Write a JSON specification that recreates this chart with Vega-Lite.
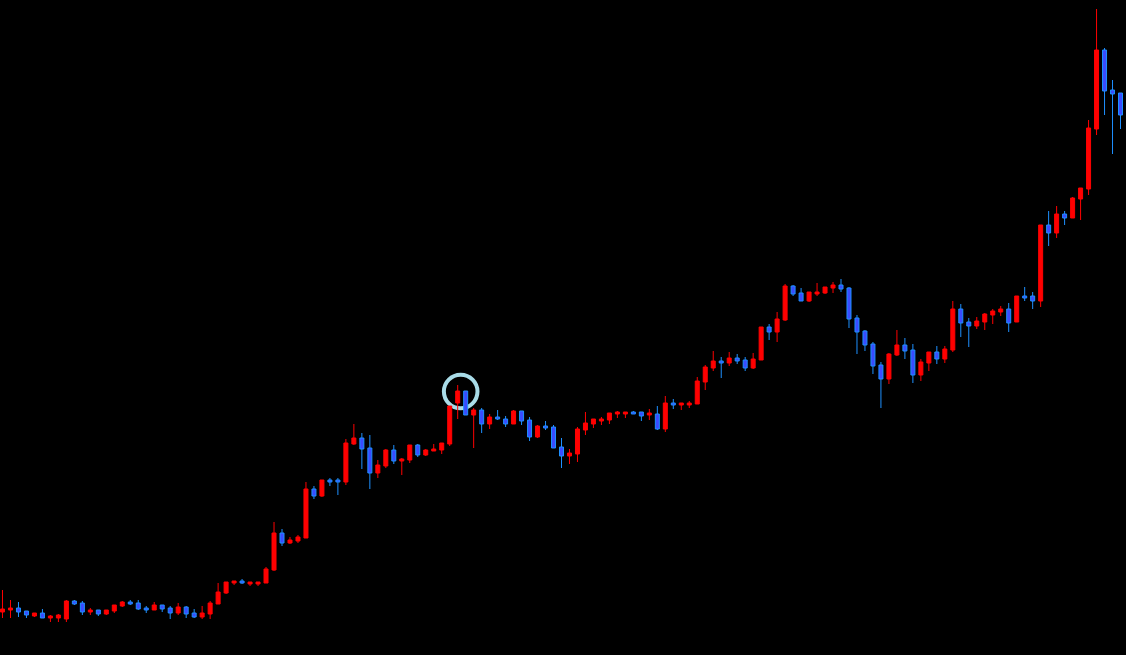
{
  "$schema": "https://vega.github.io/schema/vega-lite/v6.json",
  "width": 1126,
  "height": 655,
  "autosize": {"type": "fit", "contains": "padding"},
  "padding": 0,
  "background": "#000000",
  "config": {"view": {"stroke": null}, "scale": {"continuousPadding": 0}},
  "datasets": {
    "candles": [
      {"i":0,"o":43,"h":65,"l":37,"c":46},
      {"i":1,"o":45,"h":55,"l":37,"c":47},
      {"i":2,"o":47,"h":53,"l":38,"c":43},
      {"i":3,"o":44,"h":44,"l":37,"c":40},
      {"i":4,"o":39,"h":42,"l":38,"c":42},
      {"i":5,"o":42,"h":46,"l":37,"c":37},
      {"i":6,"o":37,"h":40,"l":33,"c":39},
      {"i":7,"o":37,"h":41,"l":33,"c":40},
      {"i":8,"o":36,"h":55,"l":33,"c":54},
      {"i":9,"o":54,"h":55,"l":50,"c":51},
      {"i":10,"o":52,"h":54,"l":40,"c":43},
      {"i":11,"o":43,"h":47,"l":40,"c":45},
      {"i":12,"o":45,"h":45,"l":39,"c":41},
      {"i":13,"o":41,"h":45,"l":40,"c":45},
      {"i":14,"o":44,"h":50,"l":42,"c":50},
      {"i":15,"o":49,"h":54,"l":48,"c":53},
      {"i":16,"o":53,"h":55,"l":50,"c":51},
      {"i":17,"o":52,"h":55,"l":45,"c":46},
      {"i":18,"o":47,"h":49,"l":42,"c":45},
      {"i":19,"o":45,"h":53,"l":45,"c":50},
      {"i":20,"o":50,"h":50,"l":43,"c":46},
      {"i":21,"o":47,"h":49,"l":36,"c":42},
      {"i":22,"o":42,"h":52,"l":40,"c":48},
      {"i":23,"o":48,"h":49,"l":37,"c":41},
      {"i":24,"o":42,"h":46,"l":37,"c":38},
      {"i":25,"o":38,"h":49,"l":36,"c":42},
      {"i":26,"o":41,"h":54,"l":36,"c":52},
      {"i":27,"o":51,"h":72,"l":51,"c":63},
      {"i":28,"o":62,"h":73,"l":61,"c":73},
      {"i":29,"o":72,"h":74,"l":70,"c":74},
      {"i":30,"o":74,"h":76,"l":71,"c":72},
      {"i":31,"o":71,"h":73,"l":69,"c":73},
      {"i":32,"o":71,"h":73,"l":69,"c":73},
      {"i":33,"o":72,"h":88,"l":72,"c":86},
      {"i":34,"o":85,"h":133,"l":84,"c":122},
      {"i":35,"o":122,"h":126,"l":109,"c":112},
      {"i":36,"o":112,"h":118,"l":111,"c":115},
      {"i":37,"o":114,"h":120,"l":112,"c":118},
      {"i":38,"o":117,"h":173,"l":117,"c":166},
      {"i":39,"o":166,"h":169,"l":156,"c":159},
      {"i":40,"o":159,"h":175,"l":158,"c":175},
      {"i":41,"o":175,"h":177,"l":169,"c":173},
      {"i":42,"o":175,"h":177,"l":160,"c":173},
      {"i":43,"o":173,"h":216,"l":170,"c":212},
      {"i":44,"o":211,"h":231,"l":210,"c":217},
      {"i":45,"o":217,"h":222,"l":186,"c":206},
      {"i":46,"o":207,"h":220,"l":166,"c":182},
      {"i":47,"o":182,"h":195,"l":177,"c":190},
      {"i":48,"o":189,"h":206,"l":187,"c":205},
      {"i":49,"o":205,"h":210,"l":191,"c":194},
      {"i":50,"o":194,"h":197,"l":180,"c":196},
      {"i":51,"o":195,"h":210,"l":192,"c":210},
      {"i":52,"o":210,"h":211,"l":198,"c":200},
      {"i":53,"o":200,"h":206,"l":199,"c":205},
      {"i":54,"o":204,"h":211,"l":204,"c":206},
      {"i":55,"o":205,"h":212,"l":201,"c":212},
      {"i":56,"o":211,"h":249,"l":209,"c":249},
      {"i":57,"o":252,"h":270,"l":236,"c":264},
      {"i":58,"o":264,"h":264,"l":240,"c":240},
      {"i":59,"o":240,"h":247,"l":207,"c":245},
      {"i":60,"o":245,"h":247,"l":222,"c":231},
      {"i":61,"o":231,"h":241,"l":226,"c":238},
      {"i":62,"o":238,"h":245,"l":235,"c":236},
      {"i":63,"o":236,"h":239,"l":228,"c":231},
      {"i":64,"o":231,"h":245,"l":231,"c":244},
      {"i":65,"o":244,"h":244,"l":230,"c":234},
      {"i":66,"o":235,"h":238,"l":214,"c":218},
      {"i":67,"o":218,"h":230,"l":217,"c":229},
      {"i":68,"o":229,"h":234,"l":225,"c":227},
      {"i":69,"o":228,"h":230,"l":207,"c":207},
      {"i":70,"o":208,"h":217,"l":187,"c":199},
      {"i":71,"o":199,"h":206,"l":191,"c":202},
      {"i":72,"o":201,"h":228,"l":193,"c":226},
      {"i":73,"o":225,"h":243,"l":220,"c":232},
      {"i":74,"o":231,"h":236,"l":227,"c":236},
      {"i":75,"o":234,"h":238,"l":230,"c":236},
      {"i":76,"o":235,"h":242,"l":231,"c":242},
      {"i":77,"o":241,"h":244,"l":237,"c":243},
      {"i":78,"o":241,"h":243,"l":237,"c":243},
      {"i":79,"o":243,"h":244,"l":241,"c":241},
      {"i":80,"o":243,"h":243,"l":234,"c":239},
      {"i":81,"o":240,"h":246,"l":235,"c":242},
      {"i":82,"o":241,"h":249,"l":225,"c":226},
      {"i":83,"o":226,"h":259,"l":223,"c":252},
      {"i":84,"o":252,"h":256,"l":246,"c":250},
      {"i":85,"o":250,"h":252,"l":245,"c":252},
      {"i":86,"o":250,"h":254,"l":247,"c":252},
      {"i":87,"o":251,"h":278,"l":251,"c":274},
      {"i":88,"o":273,"h":290,"l":265,"c":288},
      {"i":89,"o":287,"h":304,"l":284,"c":294},
      {"i":90,"o":294,"h":298,"l":277,"c":292},
      {"i":91,"o":292,"h":303,"l":289,"c":297},
      {"i":92,"o":297,"h":301,"l":291,"c":294},
      {"i":93,"o":295,"h":298,"l":284,"c":287},
      {"i":94,"o":287,"h":302,"l":286,"c":296},
      {"i":95,"o":295,"h":328,"l":295,"c":328},
      {"i":96,"o":328,"h":331,"l":315,"c":323},
      {"i":97,"o":323,"h":343,"l":313,"c":336},
      {"i":98,"o":335,"h":371,"l":334,"c":369},
      {"i":99,"o":369,"h":370,"l":359,"c":361},
      {"i":100,"o":362,"h":367,"l":354,"c":354},
      {"i":101,"o":354,"h":363,"l":353,"c":363},
      {"i":102,"o":361,"h":372,"l":359,"c":363},
      {"i":103,"o":362,"h":368,"l":361,"c":368},
      {"i":104,"o":367,"h":373,"l":362,"c":370},
      {"i":105,"o":370,"h":376,"l":363,"c":366},
      {"i":106,"o":367,"h":368,"l":327,"c":336},
      {"i":107,"o":337,"h":340,"l":301,"c":323},
      {"i":108,"o":324,"h":325,"l":304,"c":310},
      {"i":109,"o":311,"h":313,"l":281,"c":289},
      {"i":110,"o":290,"h":293,"l":247,"c":276},
      {"i":111,"o":276,"h":302,"l":271,"c":301},
      {"i":112,"o":300,"h":325,"l":299,"c":310},
      {"i":113,"o":310,"h":317,"l":296,"c":304},
      {"i":114,"o":305,"h":311,"l":272,"c":280},
      {"i":115,"o":280,"h":296,"l":274,"c":293},
      {"i":116,"o":292,"h":303,"l":284,"c":303},
      {"i":117,"o":303,"h":309,"l":291,"c":296},
      {"i":118,"o":296,"h":309,"l":292,"c":306},
      {"i":119,"o":305,"h":354,"l":303,"c":346},
      {"i":120,"o":346,"h":351,"l":318,"c":332},
      {"i":121,"o":333,"h":337,"l":308,"c":329},
      {"i":122,"o":329,"h":338,"l":326,"c":334},
      {"i":123,"o":333,"h":342,"l":325,"c":341},
      {"i":124,"o":340,"h":346,"l":331,"c":344},
      {"i":125,"o":343,"h":349,"l":339,"c":346},
      {"i":126,"o":346,"h":352,"l":323,"c":332},
      {"i":127,"o":333,"h":359,"l":333,"c":359},
      {"i":128,"o":359,"h":368,"l":354,"c":357},
      {"i":129,"o":359,"h":363,"l":346,"c":354},
      {"i":130,"o":354,"h":430,"l":348,"c":430},
      {"i":131,"o":430,"h":444,"l":409,"c":422},
      {"i":132,"o":422,"h":449,"l":417,"c":441},
      {"i":133,"o":441,"h":444,"l":430,"c":437},
      {"i":134,"o":437,"h":458,"l":437,"c":457},
      {"i":135,"o":456,"h":467,"l":435,"c":467},
      {"i":136,"o":466,"h":535,"l":460,"c":527},
      {"i":137,"o":526,"h":646,"l":520,"c":605},
      {"i":138,"o":605,"h":607,"l":540,"c":564},
      {"i":139,"o":565,"h":575,"l":501,"c":561},
      {"i":140,"o":562,"h":562,"l":526,"c":540}
    ],
    "marker": [{"i": 57.375, "p": 263.5}]
  },
  "layer": [
    {
      "data": {"name": "marker"},
      "mark": {"type": "point", "shape": "circle", "filled": false, "size": 1130, "strokeWidth": 4, "color": "#A9DCE8", "opacity": 1},
      "encoding": {
        "x": {"field": "i", "type": "quantitative", "scale": {"domain": [-0.0625, 140.6875], "zero": false, "nice": false, "padding": 0}, "axis": null},
        "y": {"field": "p", "type": "quantitative", "scale": {"domain": [0, 655], "zero": false, "nice": false, "padding": 0}, "axis": null}
      }
    },
    {
      "data": {"name": "candles"},
      "mark": {"type": "rule", "strokeWidth": 1},
      "encoding": {
        "x": {"field": "i", "type": "quantitative", "scale": {"domain": [-0.0625, 140.6875], "zero": false, "nice": false, "padding": 0}, "axis": null},
        "y": {"field": "l", "type": "quantitative", "scale": {"domain": [0, 655], "zero": false, "nice": false, "padding": 0}, "axis": null},
        "y2": {"field": "h"},
        "color": {"condition": {"test": "datum.c > datum.o", "value": "#FF0000"}, "value": "#1E90FF"}
      }
    },
    {
      "data": {"name": "candles"},
      "mark": {"type": "bar", "size": 4, "strokeWidth": 1, "orient": "vertical"},
      "encoding": {
        "x": {"field": "i", "type": "quantitative", "scale": {"domain": [-0.0625, 140.6875], "zero": false, "nice": false, "padding": 0}, "axis": null},
        "y": {"field": "o", "type": "quantitative", "scale": {"domain": [0, 655], "zero": false, "nice": false, "padding": 0}, "axis": null},
        "y2": {"field": "c"},
        "fill": {"condition": {"test": "datum.c > datum.o", "value": "#FF0000"}, "value": "#3A4BFF"},
        "stroke": {"condition": {"test": "datum.c > datum.o", "value": "#FF0000"}, "value": "#1E90FF"}
      }
    }
  ]
}
